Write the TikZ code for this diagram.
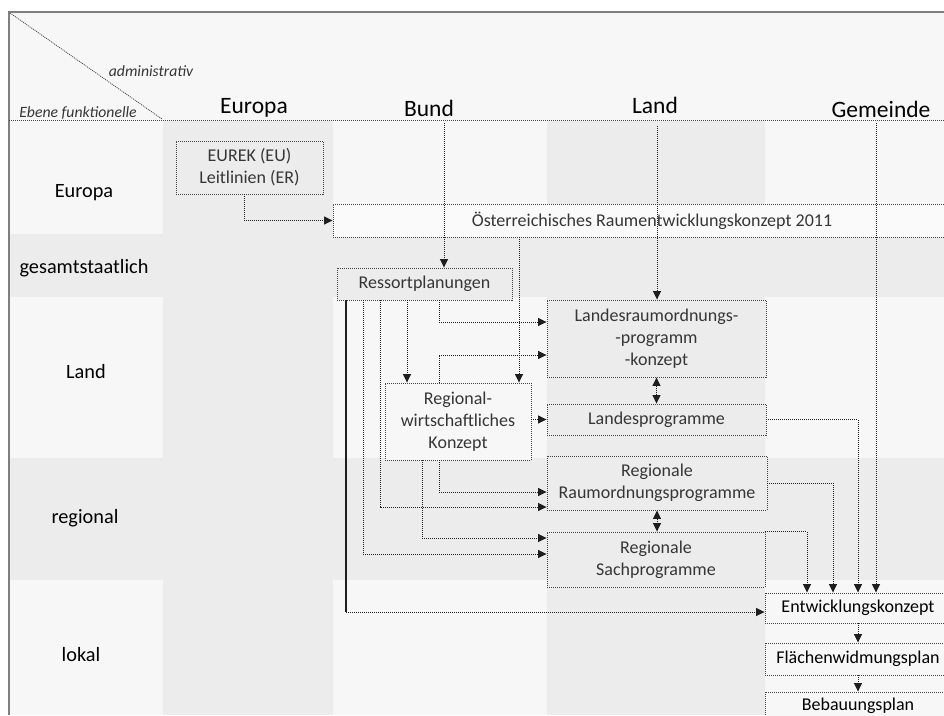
\documentclass[tikz,border=0pt]{standalone}
\usepackage{fontspec}
\setmainfont{Carlito}
\usetikzlibrary{arrows.meta}
\definecolor{lightbg}{HTML}{F7F7F7}
\definecolor{darkbg}{HTML}{ECECEC}
\definecolor{boxbg}{HTML}{FAFAFA}
\definecolor{framec}{HTML}{7F7F7F}
\definecolor{linec}{HTML}{1E1E1E}
\definecolor{boxc}{HTML}{444444}
\definecolor{txtc}{HTML}{363636}
\tikzset{
  dots/.style={dash pattern=on 1pt off 1pt},
  box/.style={draw=boxc, dots, line width=0.9pt, inner sep=0pt, align=center,
    text=txtc, font=\fontsize{18}{22}\selectfont},
  conn/.style={draw=linec, dots, line width=1pt, ->},
  both/.style={draw=linec, dots, line width=1pt, <->},
  solidconn/.style={draw=linec, line width=1.2pt},
  hdr/.style={anchor=base, font=\fontsize{23.5}{27}\selectfont, text=black, inner sep=0pt},
  rowlbl/.style={anchor=base, font=\fontsize{20.3}{24}\selectfont, text=black, inner sep=0pt},
  corner/.style={anchor=base, font=\fontsize{15.7}{18}\selectfont\itshape, text=txtc, inner sep=0pt},
  >={Triangle[length=8.5pt,width=8pt]}
}
\begin{document}
\begin{tikzpicture}[x=1pt,y=-1pt]
\useasboundingbox (0,0) rectangle (944,715);
\clip (0,0) rectangle (944,715);
% background grid
\fill[white] (0,0) rectangle (944,715);
\fill[lightbg] (9,12) rectangle (944,715);
\fill[darkbg] (163,121) rectangle (333,715);
\fill[darkbg] (547,121) rectangle (765,715);
\fill[darkbg] (9,234) rectangle (944,297);
\fill[darkbg] (9,458) rectangle (944,580);
% frame
\draw[framec, line width=1.5pt] (9,715) -- (9,12) -- (944,12);
\draw[boxc, dots, line width=0.9pt] (9,120) -- (944,120);
\draw[boxc, dots, line width=0.8pt] (10,13) -- (162,119);
% corner labels
\node[corner] (adm) at (151,76) {administrativ};
\node[corner] (ebene) at (78,117) {Ebene funktionelle};
% column headers
\node[hdr] (hEuropa) at (254,113) {Europa};
\node[hdr] (hBund) at (429,116) {Bund};
\node[hdr] (hLand) at (655,113) {Land};
\node[hdr] (hGemeinde) at (881,117) {Gemeinde};
% row labels
\node[rowlbl] (rEuropa) at (84,197) {Europa};
\node[rowlbl] (rGesamt) at (84,273) {gesamtstaatlich};
\node[rowlbl] (rLand) at (86,378) {Land};
\node[rowlbl] (rRegional) at (85,523) {regional};
\node[rowlbl] (rLokal) at (81,661) {lokal};
% boxes
\node[box, fill=darkbg, minimum width=147, minimum height=53] (eurek) at (249.5,167.5) {EUREK (EU)\\Leitlinien (ER)};
\node[box, fill=boxbg, minimum width=638, minimum height=33] (oerek) at (652,220.5) {Österreichisches Raumentwicklungskonzept 2011};
\node[box, fill=darkbg, minimum width=175, minimum height=32] (ressort) at (424.5,284) {Ressortplanungen};
\node[box, fill=darkbg, minimum width=219, minimum height=77] (lrop) at (656.5,338.5) {Landesraumordnungs-\\-programm\\-konzept};
\node[box, fill=lightbg, minimum width=146, minimum height=77] (rwk) at (458,421.5) {Regional-\\wirtschaftliches\\Konzept};
\node[box, fill=darkbg, minimum width=219, minimum height=31] (lp) at (656.5,419.5) {Landesprogramme};
\node[box, fill=darkbg, minimum width=220, minimum height=54] (rrop) at (657,483) {Regionale\\Raumordnungsprogramme};
\node[box, fill=darkbg, minimum width=218, minimum height=55] (rsp) at (656,559.5) {Regionale\\Sachprogramme};
\node[box, fill=lightbg, text=black, minimum width=186, minimum height=30] (ek) at (858,608) {Entwicklungskonzept};
\node[box, fill=lightbg, text=black, minimum width=186, minimum height=32] (fwp) at (858,659) {Flächenwidmungsplan};
\node[box, fill=lightbg, text=black, minimum width=186, minimum height=28] (bp) at (858,706) {Bebauungsplan};
% helper coordinates
\coordinate (bundsrc) at (444,123);
\coordinate (landsrc) at (657,126);
\coordinate (gemsrc) at (876,123);
\coordinate (xk) at (244,0);
\coordinate (xa) at (346,0);
\coordinate (xb) at (363,0);
\coordinate (xc) at (380,0);
\coordinate (xd) at (407,0);
\coordinate (xf) at (422,0);
\coordinate (xe) at (439,0);
\coordinate (xg) at (519,0);
\coordinate (xh) at (807,0);
\coordinate (xi) at (833,0);
\coordinate (xj) at (858,0);
\coordinate (ekin) at ([yshift=-4pt]ek.west);
\coordinate (lropA) at ([yshift=16.5pt]lrop.west);
\coordinate (lropB) at ([yshift=-16.5pt]lrop.west);
\coordinate (rropA) at ([yshift=-9pt]rrop.west);
\coordinate (rropB) at ([yshift=-24pt]rrop.west);
\coordinate (rspA) at ([yshift=21.5pt]rsp.west);
\coordinate (rspB) at ([yshift=5.5pt]rsp.west);
% connectors
\draw[conn] (xk |- eurek.south) |- (oerek.west);
\draw[conn] (bundsrc) -- (bundsrc |- ressort.north);
\draw[conn] (landsrc) -- (landsrc |- lrop.north);
\draw[conn] (gemsrc) -- (gemsrc |- ek.north);
\draw[conn] (xg |- oerek.south) -- (xg |- rwk.north);
\draw[solidconn] (xa |- ressort.south) -- (xa |- ekin);
\draw[conn] (xa |- ekin) -- (ekin);
\draw[conn] (xb |- ressort.south) |- (rspB);
\draw[conn] (xc |- ressort.south) |- (rropB);
\draw[conn] (xd |- ressort.south) -- (xd |- rwk.north);
\draw[conn] (xe |- ressort.south) |- (lropA);
\draw[conn] (xe |- rwk.north) |- (lropB);
\draw[conn] (rwk.east |- lp.west) -- (lp.west);
\draw[conn] (xe |- rwk.south) |- (rropA);
\draw[conn] (xf |- rwk.south) |- (rspA);
\draw[both] (lrop.south) -- (lp.north);
\draw[both] (rrop.south) -- (rrop.south |- rsp.north);
\draw[conn] (lp.east) -| (xj |- ek.north);
\draw[conn] (rrop.east) -| (xi |- ek.north);
\draw[conn] (rsp.north east) -| (xh |- ek.north);
\draw[conn] (ek.south) -- (fwp.north);
\draw[conn] (fwp.south) -- (bp.north);
\end{tikzpicture}
\end{document}
